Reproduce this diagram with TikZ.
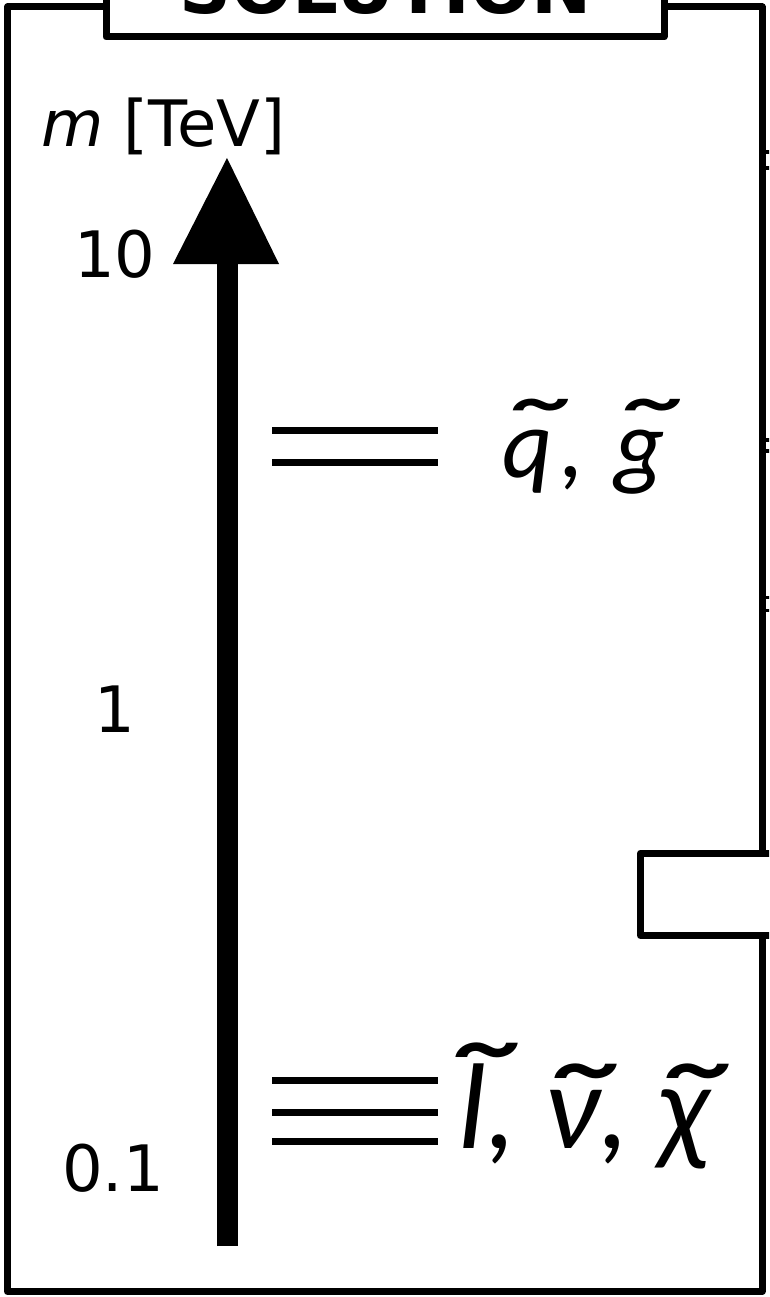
\documentclass[tikz,border=0pt]{standalone}
\usepackage{fontspec}
\setmainfont{DejaVu Sans}
\newfontfamily\calfont{Carlito}
\newcommand\tld[4][0em]{% #1 xshift, #2 raise, #3 hscale, #4 letter
  \leavevmode\setbox0\hbox{#4}%
  \rlap{\hbox to \wd0{\hss\kern#1\raisebox{#2}{\scalebox{#3}[1.2]{\char"02DC}}\hss}}\box0}
\begin{document}
\begin{tikzpicture}[x=1pt,y=-1pt]
\tikzset{
  frame/.style={line width=7pt, line join=round},
  lvl/.style={line width=7pt},
  tick/.style={line width=3.5pt},
  lab/.style={font=\fontsize{64}{78}\selectfont, inner sep=0pt},
  part/.style={inner sep=0pt, anchor=base west}
}
\useasboundingbox (0,0) rectangle (769,1297);
\clip (0,0) rectangle (769,1297);
% outer frame
\draw[frame] (7.5,7) rectangle (762,1291.5);
% title box
\draw[frame, fill=white] (106,-30) rectangle (664,37);
\node[anchor=base, inner sep=0pt, font=\bfseries\fontsize{72}{80}\selectfont] (title) at (386,14) {SOLUTION};
% right box (cut off)
\draw[frame, fill=white] (640.5,853) rectangle (800,935.5);
% ticks of neighbouring panel
\draw[tick] (762,152) -- (772,152);
\draw[tick] (762,168) -- (772,168);
\draw[tick] (762,440) -- (772,440);
\draw[tick] (762,451) -- (772,451);
\draw[tick] (762,597.5) -- (772,597.5);
\draw[tick] (762,610.5) -- (772,610.5);
% axis
\coordinate (axbot) at (227,1246);
\coordinate (axtop) at (227,264);
\draw[line width=21pt] (axbot) -- (axtop);
\fill (173,264) -- (279,264) -- (227,158) -- cycle;
% axis labels
\node[lab, anchor=base west] (mlab) at (41,147) {\textit{m} [TeV]};
\node[lab, anchor=base] (t10) at (115,277) {10};
\node[lab, anchor=base] (t1) at (115,732) {1};
\node[lab, anchor=base] (t01) at (113,1191) {0.1};
% level lines
\draw[lvl] (272,430.5) -- (438,430.5);
\draw[lvl] (272,462) -- (438,462);
\draw[lvl] (272,1080.5) -- (438,1080.5);
\draw[lvl] (272,1112.5) -- (438,1112.5);
\draw[lvl] (272,1141) -- (438,1141);
% particle labels
\node[part, font=\calfont\itshape\fontsize{98}{104}\selectfont] (heavy) at (502,477)
  {\tld[0.06em]{0em}{2.1}{q}\hspace{0.08em},\hspace{0.3em}\tld[0.06em]{0em}{2.1}{g}};
\node[part, font=\calfont\itshape\fontsize{122}{128}\selectfont] (light) at (458,1148)
  {\tld[0.06em]{0.06em}{1.9}{l},\hspace{0.23em}\tld[0.05em]{-0.11em}{1.9}{ν},\hspace{0.23em}\tld[0.05em]{-0.11em}{1.9}{χ}};
\end{tikzpicture}
\end{document}
